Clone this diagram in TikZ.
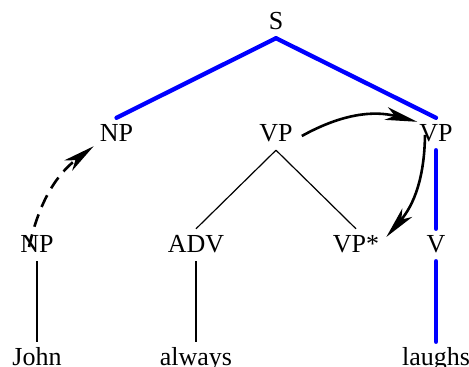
\documentclass[tikz,border=0pt]{standalone}
\usepackage{fontspec}
\setmainfont{Liberation Serif}
\usetikzlibrary{arrows.meta}
\begin{document}
\begin{tikzpicture}[x=1pt,y=1pt,
  lbl/.style={anchor=base, inner sep=5pt, text height=18pt, text depth=4pt, font=\fontsize{26}{30}\selectfont},
  edge/.style={line width=1.2pt},
  spine/.style={draw=blue, line width=4.3pt, line cap=round},
  move/.style={line width=2.6pt, -{Stealth[length=32pt,width=13pt,inset=9pt]}},
  trace/.style={move, dash pattern=on 13pt off 8pt}
]
\useasboundingbox (0,0) rectangle (469,-367);
\node[lbl] (s) at (276,-29) {S};
\node[lbl] (np) at (116.5,-141) {NP};
\node[lbl] (vpm) at (276,-141) {VP};
\node[lbl] (vpr) at (436,-141) {VP};
\node[lbl] (npb) at (37,-252) {NP};
\node[lbl] (adv) at (196,-252) {ADV};
\node[lbl] (vps) at (356,-252) {VP*};
\node[lbl] (v) at (436,-252) {V};
\node[lbl] (john) at (37,-365) {John};
\node[lbl] (always) at (196,-365) {always};
\node[lbl] (laughs) at (436,-365) {laughs};

\draw[spine] (s.south) -- (np.north);
\draw[spine] (s.south) -- (vpr.north);
\draw[spine] (vpr.south) -- (v.north);
\draw[spine] (v.south) -- (laughs.north);

\draw[edge] (vpm.south) -- (adv.north);
\draw[edge] (vpm.south) -- (vps.north);
\draw[edge] (npb.south) -- (john.north);
\draw[edge] (adv.south) -- (always.north);

\draw[trace] ([xshift=-8pt,yshift=-2pt]npb.center) to[bend left=20] ([xshift=-1pt,yshift=4pt]np.south west);
\draw[move] ([xshift=4pt,yshift=-2pt]vpm.east) to[bend left=22] ([xshift=3pt,yshift=-4pt]vpr.north west);
\draw[move] ([xshift=-11pt,yshift=-1pt]vpr.center) to[bend left=20] ([xshift=2pt,yshift=8pt]vps.east);
\end{tikzpicture}
\end{document}
